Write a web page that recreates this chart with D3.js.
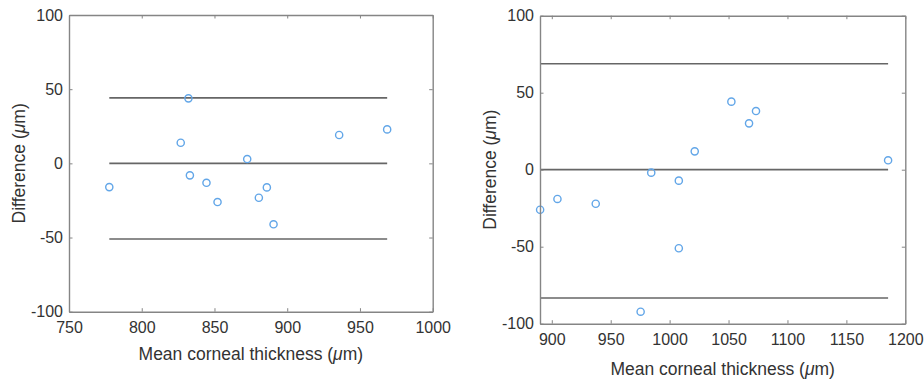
<!DOCTYPE html>
<html>
<head>
<meta charset="utf-8">
<script src="https://cdn.jsdelivr.net/npm/d3@7"></script>
<style>
  body { margin: 0; background: #fff; }
  svg { display: block; font-family: "Liberation Sans", Arial, sans-serif; }
</style>
</head>
<body>
<div id="chart"></div>
<script>
// left panel: mean thickness vs difference
const leftX = [777.7, 832.1, 826.8, 833.1, 844.5, 852.1, 872.5, 880.5, 886.0, 890.6, 935.7, 968.7];
const leftY = [-16.0, 43.8, 13.9, -8.1, -13.1, -26.1, 2.9, -23.2, -16.2, -41.1, 19.1, 22.9];
const leftLines = [44.2, 0, -51.0];
const leftXTicks = [750, 800, 850, 900, 950, 1000];

// right panel
const rightX = [890.1, 904.8, 937.3, 975.4, 984.4, 1007.8, 1007.8, 1021.3, 1052.4, 1067.4, 1073.3, 1185.4];
const rightY = [-26.0, -19.0, -22.1, -92.2, -1.9, -7.1, -51.0, 11.9, 44.2, 30.1, 38.1, 6.1];
const rightLines = [68.8, 0, -83.3];
const rightXTicks = [900, 950, 1000, 1050, 1100, 1150, 1200];

const yTicks = [-100, -50, 0, 50, 100];

const svg = d3.select('#chart').append('svg')
  .attr('width', 924)
  .attr('height', 379);

svg.append('rect').attr('width', 924).attr('height', 379).attr('fill', '#fff');

const plain = d => String(d); // hyphen minus, no thousands comma

function drawPanel(p) {
  const x = d3.scaleLinear().domain(p.xDomain).range([p.left, p.right]);
  const y = d3.scaleLinear().domain([-100, 100]).range([p.bottom, p.top]);
  const g = svg.append('g');
  const tickLen = 3.5;

  // reference lines (bias and limits of agreement)
  const x0 = d3.min(p.xs), x1 = d3.max(p.xs);
  g.selectAll('line.ref').data(p.lines).join('line')
    .attr('class', 'ref')
    .attr('x1', x(x0)).attr('x2', x(x1))
    .attr('y1', d => y(d)).attr('y2', d => y(d))
    .attr('stroke', '#666')
    .attr('stroke-width', 1.7);

  // points
  g.selectAll('circle').data(p.xs.map((v, i) => [v, p.ys[i]])).join('circle')
    .attr('cx', d => x(d[0]))
    .attr('cy', d => y(d[1]))
    .attr('r', 3.6)
    .attr('fill', 'none')
    .attr('stroke', '#62a6e8')
    .attr('stroke-width', 1.4);

  // axes, ticks inward on all sides
  const bottom = g.append('g').attr('transform', `translate(0,${p.bottom})`)
    .call(d3.axisBottom(x).tickValues(p.xTicks).tickFormat(plain).tickSizeInner(-tickLen).tickSizeOuter(0).tickPadding(p.xPad));
  const top = g.append('g').attr('transform', `translate(0,${p.top})`)
    .call(d3.axisTop(x).tickValues(p.xTicks).tickSizeInner(-tickLen).tickSizeOuter(0).tickFormat(''));
  const left = g.append('g').attr('transform', `translate(${p.left},0)`)
    .call(d3.axisLeft(y).tickValues(yTicks).tickFormat(plain).tickSizeInner(-tickLen).tickSizeOuter(0).tickPadding(6));
  const right = g.append('g').attr('transform', `translate(${p.right},0)`)
    .call(d3.axisRight(y).tickValues(yTicks).tickSizeInner(-tickLen).tickSizeOuter(0).tickFormat(''));

  [bottom, top, left, right].forEach(a => {
    a.select('.domain').attr('stroke', '#858585').attr('stroke-width', 1.4);
    a.selectAll('.tick line').attr('stroke', '#858585').attr('stroke-width', 1);
    a.selectAll('text')
      .attr('fill', '#333')
      .style('font-size', '16px')
      .style('font-family', '"Liberation Sans", Arial, sans-serif');
  });

  // axis titles
  const xt = g.append('text')
    .attr('x', (p.left + p.right) / 2)
    .attr('y', p.xLabelY)
    .attr('text-anchor', 'middle')
    .attr('fill', '#333')
    .style('font-size', '17.5px');
  xt.append('tspan').text('Mean corneal thickness (');
  xt.append('tspan').style('font-style', 'italic').text('μ');
  xt.append('tspan').text('m)');

  const yt = g.append('text')
    .attr('transform', `translate(${p.yLabelX},${(p.top + p.bottom) / 2}) rotate(-90)`)
    .attr('text-anchor', 'middle')
    .attr('fill', '#333')
    .style('font-size', '17.5px');
  yt.append('tspan').text('Difference (');
  yt.append('tspan').style('font-style', 'italic').text('μ');
  yt.append('tspan').text('m)');
}

drawPanel({
  xDomain: [750, 1000], xTicks: leftXTicks,
  xs: leftX, ys: leftY, lines: leftLines,
  left: 69, right: 432.7, top: 15, bottom: 311.7,
  xPad: 10, xLabelY: 360, yLabelX: 25
});

drawPanel({
  xDomain: [890, 1200], xTicks: rightXTicks,
  xs: rightX, ys: rightY, lines: rightLines,
  left: 540, right: 905.3, top: 15.7, bottom: 323.7,
  xPad: 10, xLabelY: 375, yLabelX: 496
});
</script>
</body>
</html>
